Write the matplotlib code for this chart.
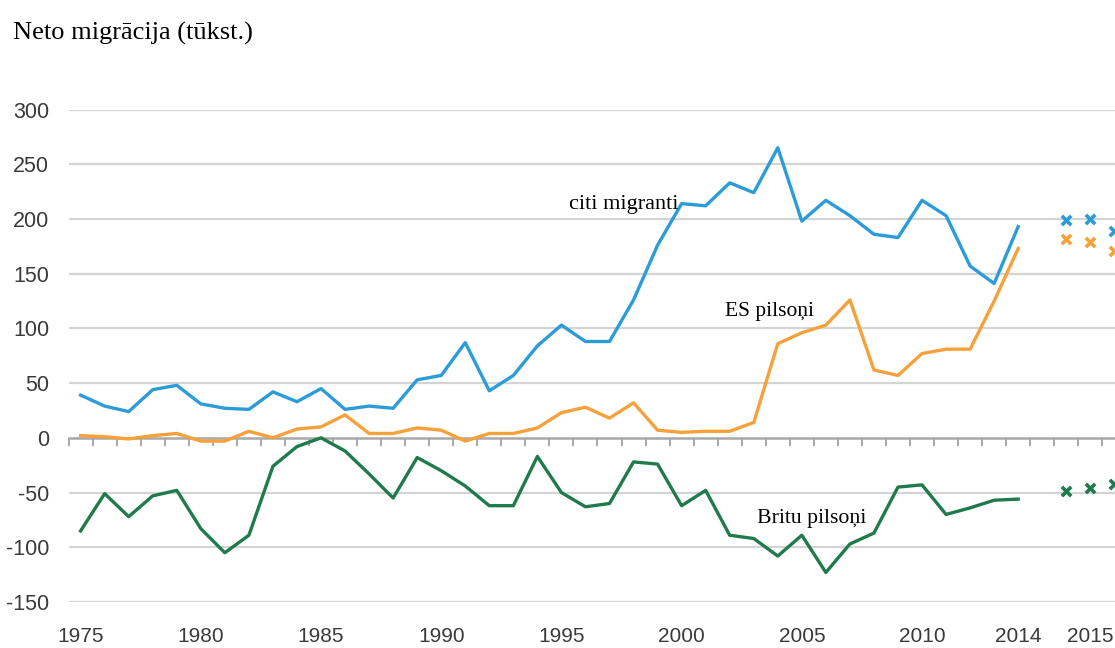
import matplotlib
matplotlib.use("Agg")
import matplotlib.pyplot as plt
import matplotlib.transforms as mtrans
from matplotlib import font_manager
import numpy as np

# ---- data ----
years = list(range(1975, 2015))
citi_migranti = [39, 29, 24, 44, 48, 31, 27, 26, 42, 33,
                 45, 26, 29, 27, 53, 57, 87, 43, 57, 84,
                 103, 88, 88, 126, 176, 214, 212, 233, 224, 265,
                 198, 217, 203, 186, 183, 217, 203, 157, 141, 193]
es_pilsoni = [2, 1, -1, 2, 4, -3, -3, 6, 0, 8,
              10, 21, 4, 4, 9, 7, -3, 4, 4, 9,
              23, 28, 18, 32, 7, 5, 6, 6, 14, 86,
              96, 103, 126, 62, 57, 77, 81, 81, 125, 173]
britu_pilsoni = [-85, -51, -72, -53, -48, -83, -105, -89, -26, -8,
                 0, -12, -33, -55, -18, -30, -44, -62, -62, -17,
                 -50, -63, -60, -22, -24, -62, -48, -89, -92, -108,
                 -89, -123, -97, -87, -45, -43, -70, -64, -57, -56]
# 2015 provisional points (after a one-slot gap)
q_citi = [199, 200, 189]
q_es = [182, 179, 171]
q_britu = [-49, -46, -42]

x_labels = ["1975", "1980", "1985", "1990", "1995", "2000", "2005", "2010", "2014", "2015"]
x_label_pos = [0, 5, 10, 15, 20, 25, 30, 35, 39, 42]
y_ticks = [-150, -100, -50, 0, 50, 100, 150, 200, 250, 300]

BLUE = "#2b9cd8"
ORANGE = "#f7a13a"
GREEN = "#1f7a4c"

avail = {f.name for f in font_manager.fontManager.ttflist}
sans = ["Liberation Sans Narrow", "Liberation Sans"] if "Liberation Sans Narrow" in avail else ["Liberation Sans"]
serif = ["Liberation Serif", "DejaVu Serif"]

W, H = 1115, 648
fig = plt.figure(figsize=(W / 100, H / 100), dpi=100)
left_px, right_px = 68.6, 68.6 + 44 * 24.04
top_px, bot_px = 109.5, 602.0
ax = fig.add_axes([left_px / W, 1 - bot_px / H, (right_px - left_px) / W, (bot_px - top_px) / H])
ax.set_xlim(-0.5, 43.5)
ax.set_ylim(-150, 300)
for s in ax.spines.values():
    s.set_visible(False)

# grid
for y in y_ticks:
    if y != 0:
        ax.axhline(y, color="#d4d4d4", lw=1.6, zorder=0)

# x-axis line at zero with ticks at category boundaries
ax.spines["bottom"].set_visible(True)
ax.spines["bottom"].set_position(("data", 0))
ax.spines["bottom"].set_color("#a8a8a8")
ax.spines["bottom"].set_linewidth(1.8)
ax.set_xticks(np.arange(-0.5, 44, 1))
ax.tick_params(axis="x", direction="out", length=6, width=1.4, color="#a8a8a8", labelbottom=False)

ax.set_yticks(y_ticks)
ax.set_yticklabels([str(v) for v in y_ticks], family=sans, fontsize=15.5, color="#3a3a3a")
ax.tick_params(axis="y", length=0, pad=14)

xi = np.arange(len(years))
ax.plot(xi, citi_migranti, color=BLUE, lw=2.4, zorder=3)
ax.plot(xi, es_pilsoni, color=ORANGE, lw=2.4, zorder=3)
ax.plot(xi, britu_pilsoni, color=GREEN, lw=2.4, zorder=3)

qx = np.arange(41, 41 + len(q_citi))
ax.scatter(qx, q_citi, marker="x", s=45, lw=2.6, color=BLUE, zorder=4, clip_on=False)
ax.scatter(qx, q_es, marker="x", s=45, lw=2.6, color=ORANGE, zorder=4, clip_on=False)
ax.scatter(qx, q_britu, marker="x", s=45, lw=2.6, color=GREEN, zorder=4, clip_on=False)

# x labels below the plot
trans = mtrans.blended_transform_factory(ax.transData, fig.transFigure)
for p, lab in zip(x_label_pos, x_labels):
    fig.text(p, 1 - 636 / H, lab, transform=trans, ha="center", va="center",
             family=sans, fontsize=15, color="#3a3a3a")

# series labels
ax.text(20.32, 209, "citi migranti", family=serif, fontsize=16, color="black", ha="left", va="baseline")
ax.text(26.79, 111, "ES pilsoņi", family=serif, fontsize=15.5, color="black", ha="left", va="baseline")
ax.text(28.12, -78, "Britu pilsoņi", family=serif, fontsize=15.7, color="black", ha="left", va="baseline")

fig.text(13 / W, 1 - 40 / H, "Neto migrācija (tūkst.)", family=serif, fontsize=19,
         color="black", ha="left", va="baseline")

fig.savefig("out.png", dpi=100)
